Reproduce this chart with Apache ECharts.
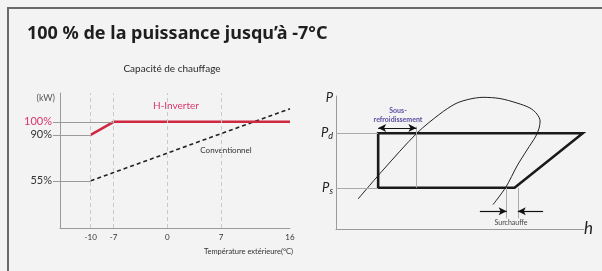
<!DOCTYPE html>
<html>
<head>
<meta charset="utf-8">
<script src="https://cdn.jsdelivr.net/npm/echarts@6/dist/echarts.min.js"></script>
<style>
html, body { margin: 0; padding: 0; background: #f3f3f3; }
#chart { width: 602px; height: 271px; }
</style>
</head>
<body>
<div id="chart"></div>
<script>
// capacité de chauffage (graphique de gauche)
const tempTicks = [-10, -7, 0, 7, 16]
const gridTemps = [-10, -7, 0, 7]
const capTicks = [55, 90, 100]
const hInverter = [[-10, 90], [-7, 100], [16, 100]]
const conventionnel = [[-10, 55], [16, 110]]

// diagramme P-h (graphique de droite), unités arbitraires 0-100
const pressureLevels = [31, 72]          // Ps, Pd
const pressureNames = ['s', 'd']
const cycle = [[17, 31], [17, 72], [99.5, 72], [72, 31], [17, 31]]
const dome = [
	[8.9, 22.6], [19, 44.4], [32.7, 72.2], [41.9, 86.5], [48.4, 94.4], [54, 97.7],
	[59.3, 99], [66.1, 98.1], [73, 94.7], [78.2, 91], [81, 86.5], [82.3, 81.2],
	[81.9, 75.9], [80.6, 69.9], [77, 59.4], [73, 47.4], [68.5, 31.5], [63.3, 18.3]
]
const sousRefroid = [17, 32.4]   // h de début / fin à Pd
const surchauffe = [68.8, 73.3]  // h de début / fin à Ps

const red = '#cf2840'
const pink = '#d8356f'
const gray = '#9a9a9a'

const chart = echarts.init(document.getElementById('chart'))

const grayLines = [
	[{ coord: [-14, 100] }, { coord: [-7, 100] }],
	[{ coord: [-14, 90] }, { coord: [-10, 90] }],
	[{ coord: [-14, 55] }, { coord: [-10, 55] }]
]

const phGray = [
	[{ coord: [0, pressureLevels[1]] }, { coord: [cycle[1][0], pressureLevels[1]] }],
	[{ coord: [0, pressureLevels[0]] }, { coord: [cycle[0][0], pressureLevels[0]] }],
	[{ coord: [sousRefroid[1], 77] }, { coord: [sousRefroid[1], pressureLevels[0]] }],
	[{ coord: [surchauffe[0], pressureLevels[0]] }, { coord: [surchauffe[0], 8] }],
	[{ coord: [surchauffe[1], pressureLevels[0]] }, { coord: [surchauffe[1], 8] }]
]

chart.setOption({
	animation: false,
	backgroundColor: '#f3f3f3',
	textStyle: { fontFamily: 'Lato' },
	title: [{
		text: '100 % de la puissance jusqu’à -7°C',
		left: 27, top: 25, padding: 0,
		textStyle: { fontFamily: 'Noto Sans', fontWeight: 'bold', fontSize: 18, color: '#1e1e1e' }
	}, {
		text: 'Capacité de chauffage',
		left: 172, top: 64, padding: 0, textAlign: 'center',
		textStyle: { fontFamily: 'Lato', fontWeight: 'normal', fontSize: 10, color: '#2a2a2a' }
	}],
	grid: [
		{ left: 60, top: 93, width: 230, height: 135 },
		{ left: 336, top: 96, width: 248, height: 133 }
	],
	xAxis: [{
		gridIndex: 0, type: 'value', min: -14, max: 16,
		name: 'Température extérieure(°C)', nameLocation: 'end', nameGap: 3,
		nameTextStyle: { fontSize: 7.5, color: '#333', align: 'right', verticalAlign: 'top', padding: [20, 0, 0, 0] },
		axisLine: { onZero: false, lineStyle: { color: gray } },
		axisTick: { show: false },
		splitLine: { show: false },
		axisLabel: { customValues: tempTicks, fontSize: 8, color: '#333', margin: 5 }
	}, {
		gridIndex: 1, type: 'value', min: 0, max: 100,
		name: 'h', nameLocation: 'end', nameGap: 0,
		nameTextStyle: { fontSize: 17, fontStyle: 'italic', color: '#222', verticalAlign: 'middle' },
		axisLine: { onZero: false, lineStyle: { color: gray } },
		axisTick: { show: false }, axisLabel: { show: false }, splitLine: { show: false }
	}],
	yAxis: [{
		gridIndex: 0, type: 'value', min: 19, max: 122,
		name: '(kW)', nameLocation: 'end', nameGap: -10,
		nameTextStyle: { fontSize: 9, color: '#555', align: 'right', padding: [0, 5, 0, 0] },
		axisLine: { show: true, onZero: false, lineStyle: { color: gray } },
		axisTick: { show: true, customValues: capTicks, length: 7, lineStyle: { color: gray } },
		splitLine: { show: false },
		axisLabel: {
			customValues: capTicks, margin: 8, fontSize: 11, color: '#333',
			formatter: v => v === 100 ? '{r|100%}' : v + '%',
			rich: { r: { fontSize: 11, color: pink } }
		}
	}, {
		gridIndex: 1, type: 'value', min: 0, max: 100,
		name: 'P', nameLocation: 'end', nameGap: -8,
		nameTextStyle: { fontSize: 13, fontStyle: 'italic', color: '#222', align: 'right', padding: [0, 3, 0, 0] },
		axisLine: { show: true, onZero: false, lineStyle: { color: gray } },
		axisTick: { show: false }, splitLine: { show: false },
		axisLabel: {
			customValues: pressureLevels, margin: 3,
			formatter: v => '{p|P}{s|' + pressureNames[pressureLevels.indexOf(v)] + '}',
			rich: {
				p: { fontSize: 13, fontStyle: 'italic', color: '#222' },
				s: { fontSize: 9, fontStyle: 'italic', color: '#222', padding: [6, 0, 0, 0] }
			}
		}
	}],
	series: [{
		type: 'line', xAxisIndex: 0, yAxisIndex: 0, data: [], silent: true,
		markLine: {
			silent: true, symbol: 'none', label: { show: false },
			lineStyle: { color: '#c9c9c9', type: [4, 3], width: 1 },
			data: gridTemps.map(t => ({ xAxis: t }))
		}
	}, {
		type: 'line', xAxisIndex: 0, yAxisIndex: 0, data: [], silent: true,
		markLine: {
			silent: true, symbol: 'none', label: { show: false },
			lineStyle: { color: gray, type: 'solid', width: 1 },
			data: grayLines
		}
	}, {
		name: 'Conventionnel', type: 'line', xAxisIndex: 0, yAxisIndex: 0,
		data: conventionnel, showSymbol: false,
		lineStyle: { color: '#222', width: 1.6, type: [4, 3] }
	}, {
		name: 'H-Inverter', type: 'line', xAxisIndex: 0, yAxisIndex: 0,
		data: hInverter, showSymbol: false,
		lineStyle: { color: red, width: 2.5 }
	}, {
		type: 'line', xAxisIndex: 1, yAxisIndex: 1, data: [], silent: true,
		markLine: {
			silent: true, symbol: 'none', label: { show: false },
			lineStyle: { color: '#aaa', type: 'solid', width: 1 },
			data: phGray
		}
	}, {
		type: 'line', xAxisIndex: 1, yAxisIndex: 1, data: [], silent: true,
		markLine: {
			silent: true, label: { show: false }, symbolSize: [6, 8],
			lineStyle: { color: '#111', type: 'solid', width: 1.2 },
			data: [
				[{ coord: [sousRefroid[0], 76], symbol: 'arrow' }, { coord: [sousRefroid[1], 76], symbol: 'arrow' }],
				[{ coord: [58, 13.3], symbol: 'none' }, { coord: [surchauffe[0], 13.3], symbol: 'arrow' }],
				[{ coord: [83.5, 13.3], symbol: 'none' }, { coord: [surchauffe[1], 13.3], symbol: 'arrow' }]
			]
		}
	}, {
		type: 'line', xAxisIndex: 1, yAxisIndex: 1, data: dome,
		smooth: 0.3, showSymbol: false,
		lineStyle: { color: '#222', width: 1 }
	}, {
		type: 'line', xAxisIndex: 1, yAxisIndex: 1, data: cycle,
		showSymbol: false,
		lineStyle: { color: '#1a1a1a', width: 2.6, join: 'miter', cap: 'square' }
	}],
	graphic: [
		{ type: 'rect', silent: true, shape: { x: 8, y: 8, width: 700, height: 400 },
			style: { fill: 'none', stroke: '#6a6a6a', lineWidth: 2 } },
		{ type: 'text', x: 176, y: 106, style: { text: 'H-Inverter', fill: pink, fontSize: 10,
			fontFamily: 'Lato', textAlign: 'center', textVerticalAlign: 'middle' } },
		{ type: 'text', x: 226, y: 150, style: { text: 'Conventionnel', fill: '#333', fontSize: 8,
			fontFamily: 'Lato', textAlign: 'center', textVerticalAlign: 'middle' } },
		{ type: 'text', x: 398, y: 111, style: { text: 'Sous-', fill: '#5a4fa0', fontSize: 7,
			fontFamily: 'Lato', fontWeight: 'bold', textAlign: 'center', textVerticalAlign: 'middle' } },
		{ type: 'text', x: 398, y: 119.5, style: { text: 'refroidissement', fill: '#5a4fa0', fontSize: 7,
			fontFamily: 'Lato', fontWeight: 'bold', textAlign: 'center', textVerticalAlign: 'middle' } },
		{ type: 'text', x: 511, y: 223, style: { text: 'Surchauffe', fill: '#444', fontSize: 7,
			fontFamily: 'Lato', textAlign: 'center', textVerticalAlign: 'middle' } }
	]
})
</script>
</body>
</html>
